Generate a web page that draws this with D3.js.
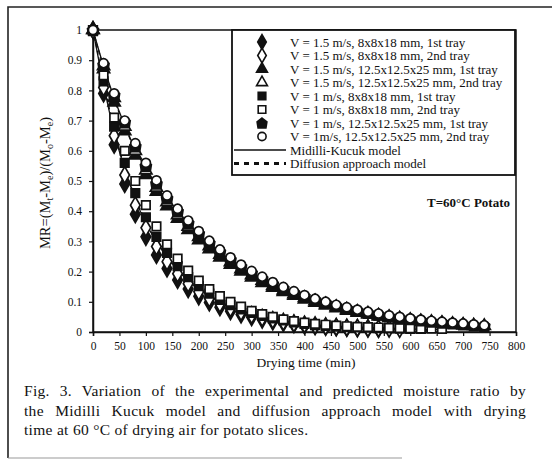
<!DOCTYPE html>
<html>
<head>
<meta charset="utf-8">
<script src="https://cdn.jsdelivr.net/npm/d3@7"></script>
<style>
  html, body { margin: 0; padding: 0; background: #fff; }
  svg { display: block; }
  text { font-family: "Liberation Serif", "Times New Roman", Times, serif; fill: #111; }
</style>
</head>
<body>
<script>
// Drying time (min) at which moisture ratio was sampled (every 20 min)
const step = 20;

// Experimental moisture ratio, one array per run
const v15_small_1st = [1,0.79,0.62,0.49,0.39,0.315,0.255,0.21,0.172,0.142,0.118,0.098,0.082,0.069,0.058,0.049,0.041,0.035,0.03,0.026,0.022,0.019,0.017,0.015,0.013,0.012,0.011,0.01];
const v15_small_2nd = [1,0.81,0.65,0.52,0.42,0.345,0.283,0.233,0.193,0.16,0.133,0.111,0.093,0.078,0.066,0.056,0.047,0.04,0.034,0.029,0.025,0.022,0.019,0.017,0.015,0.014,0.013,0.012,0.011,0.01];
const v15_large_1st = [1,0.87,0.76,0.665,0.585,0.52,0.465,0.417,0.375,0.338,0.304,0.274,0.247,0.223,0.201,0.181,0.163,0.147,0.133,0.12,0.108,0.097,0.088,0.079,0.071,0.064,0.058,0.052,0.047,0.042,0.038,0.034,0.031,0.028,0.025,0.022,0.02];
const v15_large_2nd = [1,0.88,0.775,0.68,0.6,0.535,0.478,0.43,0.387,0.349,0.315,0.284,0.256,0.231,0.208,0.188,0.17,0.153,0.138,0.125,0.113,0.102,0.092,0.083,0.075,0.067,0.061,0.055,0.05,0.045,0.04,0.036,0.033,0.03,0.027,0.024,0.022,0.02];
const v1_small_1st = [1,0.83,0.68,0.56,0.46,0.38,0.315,0.262,0.218,0.182,0.152,0.127,0.106,0.089,0.075,0.063,0.053,0.045,0.038,0.032,0.027,0.023,0.02,0.018,0.016,0.015,0.014,0.013,0.012,0.011,0.01,0.01];
const v1_small_2nd = [1,0.85,0.71,0.6,0.5,0.42,0.35,0.29,0.243,0.203,0.17,0.142,0.119,0.1,0.084,0.07,0.059,0.05,0.042,0.036,0.031,0.027,0.024,0.021,0.019,0.017,0.016,0.015,0.014,0.013,0.012,0.011,0.011,0.01];
const v1_large_1st = [1,0.885,0.785,0.695,0.615,0.55,0.492,0.443,0.4,0.361,0.326,0.295,0.266,0.24,0.217,0.196,0.177,0.16,0.145,0.131,0.118,0.107,0.097,0.087,0.079,0.071,0.064,0.058,0.052,0.047,0.043,0.039,0.035,0.032,0.029,0.026,0.023,0.021];
const v1_large_2nd = [1,0.89,0.79,0.7,0.625,0.56,0.502,0.452,0.408,0.369,0.334,0.302,0.273,0.247,0.223,0.202,0.183,0.165,0.149,0.135,0.122,0.11,0.1,0.09,0.082,0.074,0.067,0.061,0.055,0.05,0.045,0.041,0.037,0.034,0.031,0.028,0.025,0.022];

// Predicted moisture ratio for the small (8x8x18) and large (12.5x12.5x25) slices
const midilliSmall = [1,0.82,0.66,0.54,0.44,0.36,0.3,0.25,0.205,0.17,0.142,0.119,0.1,0.084,0.071,0.06,0.051,0.043,0.037,0.032,0.027,0.023,0.02,0.018,0.016,0.014,0.013,0.012,0.011,0.01,0.01,0.009,0.009,0.008];
const diffusionSmall = [1,0.83,0.67,0.545,0.445,0.365,0.3,0.248,0.205,0.17,0.141,0.117,0.097,0.081,0.068,0.057,0.048,0.04,0.034,0.029,0.024,0.02,0.017,0.015,0.013,0.011,0.01,0.009,0.008,0.007,0.006,0.006,0.005,0.005];
const midilliLarge = [1,0.88,0.775,0.685,0.605,0.54,0.484,0.435,0.39,0.352,0.318,0.287,0.259,0.234,0.211,0.191,0.172,0.156,0.141,0.127,0.115,0.104,0.094,0.085,0.077,0.069,0.063,0.056,0.051,0.046,0.042,0.038,0.034,0.031,0.028,0.025,0.023,0.021];
const diffusionLarge = [1,0.875,0.77,0.68,0.603,0.538,0.482,0.433,0.39,0.352,0.318,0.287,0.259,0.234,0.212,0.192,0.174,0.157,0.142,0.129,0.117,0.106,0.096,0.087,0.079,0.071,0.065,0.059,0.053,0.048,0.044,0.04,0.036,0.033,0.03,0.027,0.025,0.022];

const seriesLabels = [
  "V = 1.5 m/s, 8x8x18 mm, 1st tray",
  "V = 1.5 m/s, 8x8x18 mm, 2nd tray",
  "V = 1.5 m/s, 12.5x12.5x25 mm, 1st tray",
  "V = 1.5 m/s, 12.5x12.5x25 mm, 2nd tray",
  "V = 1 m/s, 8x8x18 mm, 1st tray",
  "V = 1 m/s, 8x8x18 mm, 2nd tray",
  "V = 1 m/s, 12.5x12.5x25 mm, 1st tray",
  "V = 1m/s, 12.5x12.5x25 mm, 2nd tray"
];
const modelLabels = ["Midilli-Kucuk model", "Diffusion approach model"];
const xTicks = d3.range(0, 801, 50);
const yTicks = d3.range(0, 11).map(d => d / 10);
const captionLines = [
  "Fig. 3. Variation of the experimental and predicted moisture ratio by",
  "the Midilli Kucuk model and diffusion approach model with drying",
  "time at 60 °C of drying air for potato slices."
];

// Filled pentagon ("house") marker
const symbolPentagon = {
  draw(ctx, size) {
    const r = Math.sqrt(size / 2.4);
    ctx.moveTo(0, -r);
    ctx.lineTo(r, -r * 0.25);
    ctx.lineTo(r * 0.8, r);
    ctx.lineTo(-r * 0.8, r);
    ctx.lineTo(-r, -r * 0.25);
    ctx.closePath();
  }
};

const experiments = [
  { values: v15_small_1st, type: d3.symbolDiamond, size: 80, filled: true },
  { values: v15_small_2nd, type: d3.symbolDiamond, size: 80, filled: false },
  { values: v15_large_1st, type: d3.symbolTriangle, size: 64, filled: true },
  { values: v15_large_2nd, type: d3.symbolTriangle, size: 64, filled: false },
  { values: v1_small_1st, type: d3.symbolSquare, size: 72, filled: true },
  { values: v1_small_2nd, type: d3.symbolSquare, size: 72, filled: false },
  { values: v1_large_1st, type: symbolPentagon, size: 72, filled: true },
  { values: v1_large_2nd, type: d3.symbolCircle, size: 66, filled: false }
].map((s, i) => ({ ...s, label: seriesLabels[i] }));

const W = 560, H = 470;
const svg = d3.select("body").append("svg").attr("width", W).attr("height", H);

// Page frame
svg.append("path").attr("d", "M8,458 L8,7 L552,7")
  .attr("fill", "none").attr("stroke", "#222").attr("stroke-width", 1.6);
svg.append("line").attr("x1", 8).attr("x2", 402).attr("y1", 458).attr("y2", 458)
  .attr("stroke", "#999").attr("stroke-width", 1.2);

const plot = { left: 93, right: 516, top: 30, bottom: 332 };
const x = d3.scaleLinear().domain([0, 800]).range([plot.left, plot.right]);
const y = d3.scaleLinear().domain([0, 1]).range([plot.bottom, plot.top]);

// Plot border
svg.append("rect")
  .attr("x", plot.left).attr("y", plot.top)
  .attr("width", plot.right - plot.left).attr("height", plot.bottom - plot.top)
  .attr("fill", "none").attr("stroke", "#111").attr("stroke-width", 1.5);

// Axes
const xAxis = svg.append("g").attr("transform", `translate(0,${plot.bottom})`)
  .call(d3.axisBottom(x).tickValues(xTicks).tickSize(4).tickPadding(6).tickFormat(d3.format("d")));
const yAxis = svg.append("g").attr("transform", `translate(${plot.left},0)`)
  .call(d3.axisLeft(y).tickValues(yTicks).tickSize(4).tickPadding(7).tickFormat(d => d === 0 || d === 1 ? d3.format("d")(d) : d3.format(".1f")(d)));
[xAxis, yAxis].forEach(g => {
  g.attr("font-family", null);
  g.selectAll(".domain").attr("stroke", "#111").attr("stroke-width", 1.5);
  g.selectAll(".tick line").attr("stroke", "#111").attr("stroke-width", 1.2);
  g.selectAll("text").attr("font-size", 11.5).attr("fill", "#222");
});

// Axis titles
svg.append("text").attr("x", 306).attr("y", 367).attr("text-anchor", "middle")
  .attr("font-size", 13.5).text("Drying time (min)");

const yTitle = svg.append("text")
  .attr("transform", "translate(50,183) rotate(-90)")
  .attr("text-anchor", "middle").attr("font-size", 14.5);
const yParts = [["MR=(M", null], ["t", "sub"], ["-M", null], ["e", "sub"], [")/(M", null], ["o", "sub"], ["-M", null], ["e", "sub"], [")", null]];
yParts.forEach(([t, kind]) => {
  const ts = yTitle.append("tspan").text(t);
  if (kind === "sub") ts.attr("baseline-shift", "-25%").attr("font-size", 10);
});

// Model curves
const line = d3.line().x((d, i) => x(i * step)).y(d => y(d)).curve(d3.curveMonotoneX);
[midilliSmall, midilliLarge].forEach(vals => {
  svg.append("path").attr("d", line(vals)).attr("fill", "none")
    .attr("stroke", "#111").attr("stroke-width", 1.3);
});
[diffusionSmall, diffusionLarge].forEach(vals => {
  svg.append("path").attr("d", line(vals)).attr("fill", "none")
    .attr("stroke", "#111").attr("stroke-width", 1.3).attr("stroke-dasharray", "4,3");
});

// Experimental points
const markers = svg.append("g");
experiments.forEach(s => {
  const sym = d3.symbol().type(s.type).size(s.size);
  markers.append("g").selectAll("path")
    .data(s.values)
    .join("path")
    .attr("transform", (d, i) => `translate(${x(i * step)},${y(d)})`)
    .attr("d", sym)
    .attr("fill", s.filled ? "#111" : "#fff")
    .attr("stroke", "#111")
    .attr("stroke-width", 1.7);
});

// Legend
const lg = { x: 232, y: 30, w: 283, h: 145, row: 13.5, first: 42 };
svg.append("rect").attr("x", lg.x).attr("y", lg.y).attr("width", lg.w).attr("height", lg.h)
  .attr("fill", "#fff").attr("stroke", "#111").attr("stroke-width", 1.8);
experiments.forEach((s, i) => {
  const cy = lg.first + i * lg.row;
  svg.append("path")
    .attr("transform", `translate(262,${cy})`)
    .attr("d", d3.symbol().type(s.type).size(s.size * 0.8)())
    .attr("fill", s.filled ? "#111" : "#fff").attr("stroke", "#111").attr("stroke-width", 1.6);
  svg.append("text").attr("x", 290).attr("y", cy + 4.5).attr("font-size", 13).text(s.label);
});
modelLabels.forEach((label, j) => {
  const cy = lg.first + (8 + j) * lg.row;
  svg.append("line").attr("x1", 234).attr("x2", 286).attr("y1", cy).attr("y2", cy)
    .attr("stroke", "#111").attr("stroke-width", j === 0 ? 1.3 : 2.8)
    .attr("stroke-dasharray", j === 0 ? null : "5,5");
  svg.append("text").attr("x", 290).attr("y", cy + 4.5).attr("font-size", 13).text(label);
});

// Condition note
svg.append("text").attr("x", 427).attr("y", 207).attr("font-size", 13).attr("font-weight", "bold")
  .text("T=60°C  Potato");

// Figure caption, first two lines justified by widening the word gaps
const capLeft = 24, capRight = 526;
captionLines.forEach((t, i) => {
  const tx = svg.append("text").attr("x", capLeft).attr("y", 396 + i * 19.5)
    .attr("font-size", 15.5).attr("letter-spacing", 0.3).text(t);
  if (i < 2) {
    const natural = tx.node().getComputedTextLength();
    const gaps = t.split(" ").length - 1;
    tx.attr("word-spacing", Math.max(0, (capRight - capLeft - natural) / gaps));
  }
});
</script>
</body>
</html>
